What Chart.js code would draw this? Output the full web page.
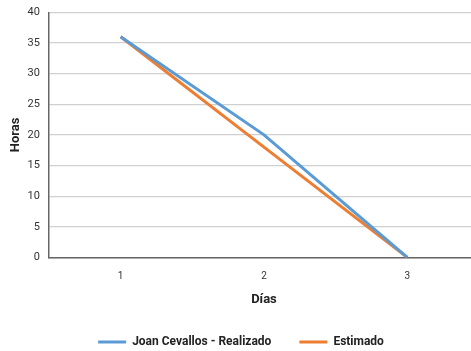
<!DOCTYPE html>
<html>
<head>
<meta charset="utf-8">
<script src="https://cdn.jsdelivr.net/npm/chart.js@4"></script>
<style>
  html, body { margin: 0; padding: 0; background: #fff; overflow: hidden; }
  #wrap { width: 479px; height: 358px; position: relative; }
</style>
</head>
<body>
<div id="wrap"><canvas id="c"></canvas></div>
<script>
// Burndown: horas restantes por día
const days = ['1', '2', '3'];
const realizado = [36, 20, 0];
const estimado = [36, 18, 0];
const seriesNames = ['Joan Cevallos - Realizado', 'Estimado'];
const yTicks = [0, 5, 10, 15, 20, 25, 30, 35, 40];

const font = "Roboto, 'Liberation Sans', sans-serif";
const blue = '#5B9BD5';
const orange = '#ED7D31';

new Chart(document.getElementById('c'), {
  type: 'line',
  data: {
    labels: days,
    datasets: [
      { label: seriesNames[0], data: realizado, borderColor: blue, backgroundColor: blue,
        borderWidth: 3, pointRadius: 0, tension: 0 },
      { label: seriesNames[1], data: estimado, borderColor: orange, backgroundColor: orange,
        borderWidth: 3, pointRadius: 0, tension: 0 }
    ]
  },
  options: {
    responsive: true,
    maintainAspectRatio: false,
    animation: false,
    layout: { padding: { top: 0, right: 0, left: 3, bottom: 0 } },
    plugins: {
      tooltip: { enabled: false },
      legend: {
        position: 'bottom',
        align: 'center',
        labels: {
          color: '#222',
          font: { family: font, size: 12, weight: 'bold' },
          boxWidth: 28,
          boxHeight: 3,
          padding: 28,
          generateLabels(chart) {
            return Chart.defaults.plugins.legend.labels.generateLabels(chart).map(l => ({
              ...l, lineWidth: 0, strokeStyle: l.fillStyle
            }));
          }
        }
      }
    },
    scales: {
      x: {
        offset: true,
        grid: { display: false, drawTicks: false },
        border: { display: true, color: '#666', width: 1.5 },
        ticks: { color: '#333', font: { family: font, size: 10 }, padding: 13 },
        title: { display: true, text: 'Días', color: '#222',
                 font: { family: font, size: 13, weight: 'bold' }, padding: { top: -3, bottom: 0 } }
      },
      y: {
        min: 0, max: 40,
        afterBuildTicks(axis) { axis.ticks = yTicks.map(v => ({ value: v })); },
        grid: { color: '#d0d0d0', lineWidth: 1.2, drawTicks: false },
        border: { display: true, color: '#666', width: 1.5 },
        ticks: { color: '#333', font: { family: font, size: 11, lineHeight: 0.6 }, padding: 9 },
        title: { display: true, text: 'Horas', color: '#222',
                 font: { family: font, size: 13, weight: 'bold' }, padding: { top: 5, bottom: -5 } }
      }
    }
  }
});
</script>
</body>
</html>
